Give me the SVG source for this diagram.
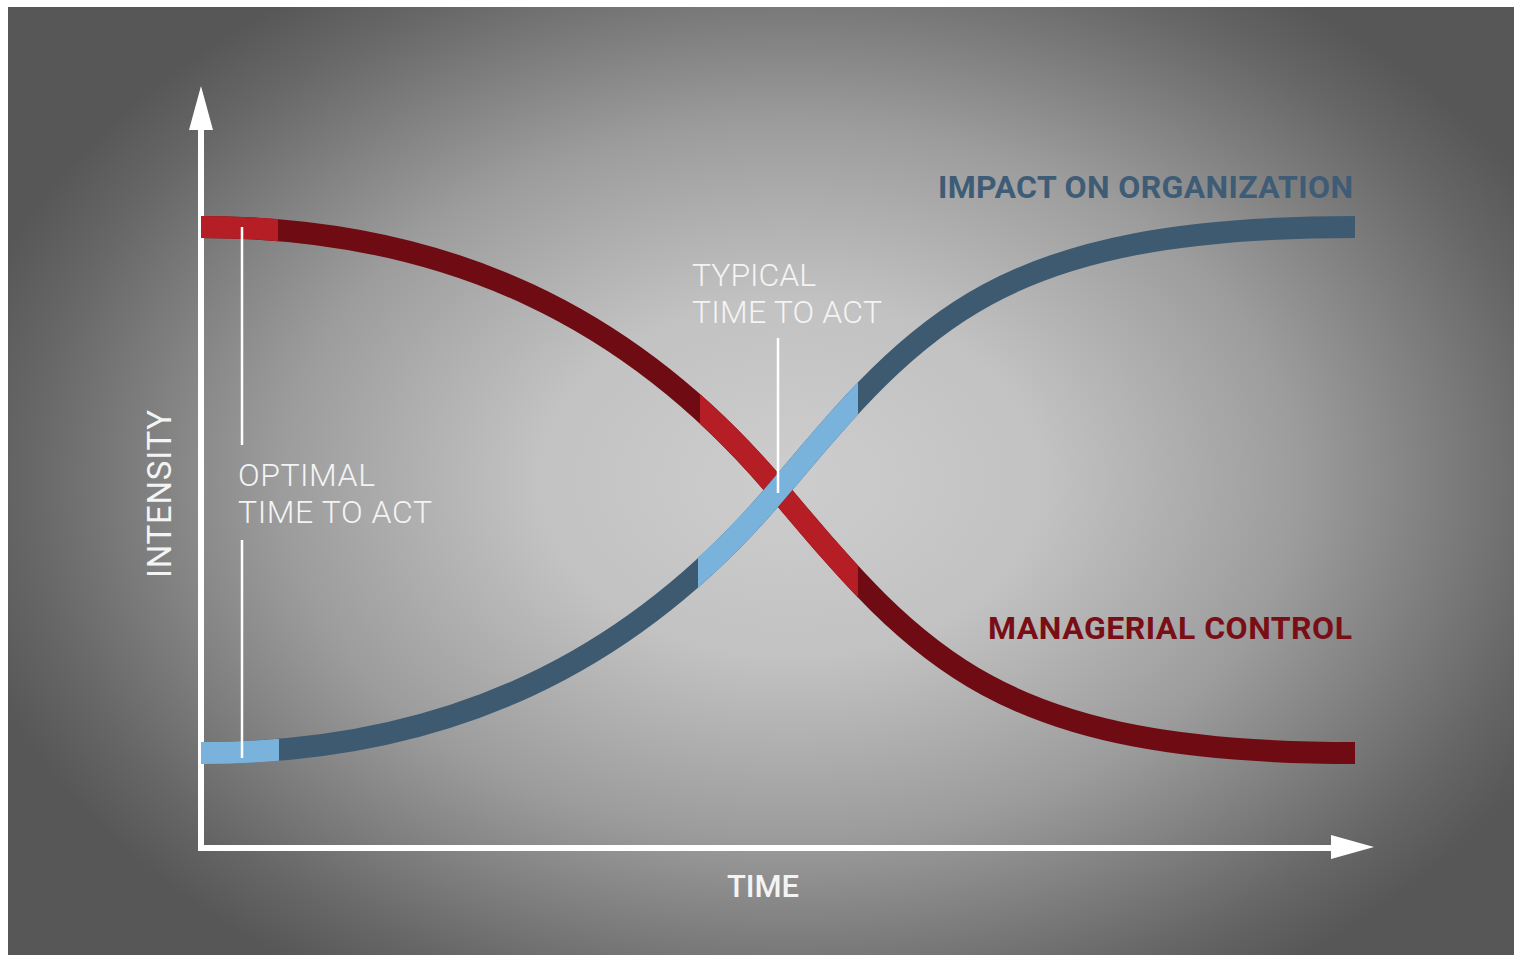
<svg xmlns="http://www.w3.org/2000/svg" xmlns:xlink="http://www.w3.org/1999/xlink" width="1514" height="963" viewBox="0 0 1514 963">
  <style>
    .lbl { font-family: Roboto, "Liberation Sans", sans-serif; fill: #f4f4f4; }
    .thin { font-weight: 300; font-size: 32px; }
    .bold { font-weight: 700; font-size: 32px; }
    .axis { stroke: #ffffff; stroke-width: 6; fill: none; }
    .marker-line { stroke: #ffffff; stroke-width: 2.5; fill: none; }
    .curve { fill: none; stroke-width: 22; stroke-linecap: butt; }
  </style>
  <defs>
    <radialGradient id="bg" gradientUnits="userSpaceOnUse" cx="790" cy="480" r="850" gradientTransform="translate(790 480) scale(1 0.7) translate(-790 -480)">
      <stop offset="0" stop-color="#cdcdcd"/>
      <stop offset="0.3" stop-color="#c2c2c2"/>
      <stop offset="0.6" stop-color="#9c9c9c"/>
      <stop offset="0.9" stop-color="#666666"/>
      <stop offset="1" stop-color="#575757"/>
    </radialGradient>
    <path id="redPath" d="M201,227 C451,227 635,320 778,490 C921,660 1000,753 1355,753"/>
    <path id="bluePath" d="M201,753 C451,753 635,660 778,490 C921,320 1000,227 1355,227"/>
    <clipPath id="redLight">
      <rect x="195" y="0" width="83" height="963"/>
      <rect x="700" y="0" width="158" height="963"/>
    </clipPath>
    <clipPath id="blueLight">
      <rect x="195" y="0" width="84" height="963"/>
      <rect x="698" y="0" width="160" height="963"/>
    </clipPath>
  </defs>

  <rect x="0" y="0" width="1514" height="963" fill="#ffffff"/>
  <rect id="background" x="8" y="7" width="1506" height="948" fill="url(#bg)"/>

  <g id="axes">
    <line class="axis" x1="201" y1="125" x2="201" y2="851"/>
    <polygon points="201,86 189,130 213,130" fill="#ffffff"/>
    <line class="axis" x1="198" y1="848" x2="1335" y2="848"/>
    <polygon points="1374,847 1331,835 1331,859" fill="#ffffff"/>
  </g>

  <g id="managerial-control">
    <use xlink:href="#redPath" class="curve" stroke="#6e0b13"/>
    <use xlink:href="#redPath" class="curve" stroke="#b51e24" clip-path="url(#redLight)"/>
  </g>

  <g id="impact-on-organization">
    <use xlink:href="#bluePath" class="curve" stroke="#3d5a71"/>
    <use xlink:href="#bluePath" class="curve" stroke="#79b3dc" clip-path="url(#blueLight)"/>
  </g>

  <g id="connectors">
    <line class="marker-line" x1="242" y1="227" x2="242" y2="445"/>
    <line class="marker-line" x1="242" y1="540" x2="242" y2="758"/>
    <line class="marker-line" x1="778" y1="338" x2="778" y2="493"/>
  </g>

  <g id="optimal-label">
    <text class="lbl thin" x="238" y="486" textLength="137" lengthAdjust="spacing">OPTIMAL</text>
    <text class="lbl thin" x="238" y="523" textLength="194" lengthAdjust="spacing">TIME TO ACT</text>
  </g>

  <g id="typical-label">
    <text class="lbl thin" x="692" y="286" textLength="124" lengthAdjust="spacing">TYPICAL</text>
    <text class="lbl thin" x="692" y="323" textLength="190" lengthAdjust="spacing">TIME TO ACT</text>
  </g>

  <g id="axis-labels">
    <text class="lbl" font-size="33" font-weight="400" transform="translate(171,578) rotate(-90)" x="0" y="0" textLength="168" lengthAdjust="spacing">INTENSITY</text>
    <text class="lbl" font-size="31" font-weight="500" x="727" y="897" textLength="72" lengthAdjust="spacing">TIME</text>
  </g>

  <g id="series-labels">
    <text class="lbl bold" x="938" y="198" fill="#3e5c76" style="fill:#3e5c76" textLength="415" lengthAdjust="spacing">IMPACT ON ORGANIZATION</text>
    <text class="lbl bold" x="988" y="639" style="fill:#7a0e16" textLength="364" lengthAdjust="spacing">MANAGERIAL CONTROL</text>
  </g>
</svg>
